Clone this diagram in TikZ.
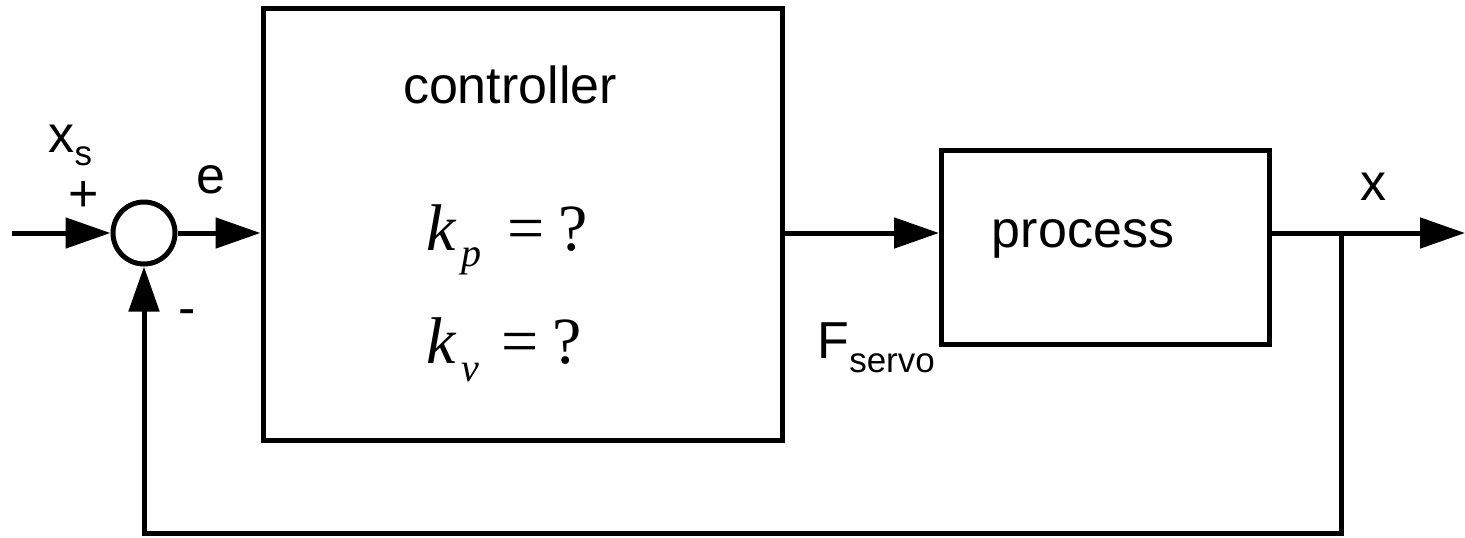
\documentclass[tikz,border=0pt]{standalone}
\usepackage{fontspec}
\setmainfont{Liberation Sans}
\newfontfamily\tms{Liberation Serif}
\usetikzlibrary{arrows.meta}
\begin{document}
\begin{tikzpicture}[x=1pt,y=-1pt,
  line width=5pt,
  blk/.style={draw, line width=5pt, inner sep=0pt},
  sig/.style={-{Triangle[length=45pt,width=30pt]}},
  lbl/.style={font=\fontsize{52}{60}\selectfont, inner sep=0pt},
  sub/.style={font=\fontsize{35}{40}\selectfont},
  eqn/.style={font=\tms\fontsize{66}{72}\selectfont, inner sep=0pt, anchor=base west},
  ]
\useasboundingbox (0,0) rectangle (1465,538);
% blocks
\node[blk, minimum width=519pt, minimum height=432pt] (ctrl) at (522.5,224) {};
\node[blk, minimum width=328pt, minimum height=194pt] (proc) at (1105.5,247) {};
\node[draw, circle, line width=5pt, minimum size=62pt, inner sep=0pt] (sum) at (144,233) {};
% texts
\node[lbl, anchor=base] (tctrl) at (510,103) {controller};
\node[lbl, anchor=base] (tproc) at (1083,247) {process};
\node[eqn] (kp) at (424,250) {\textit{k}\hspace{5pt}\raisebox{-16pt}{\fontsize{40}{44}\selectfont\textit{p}}\hspace{26pt}=\hspace{14pt}?};
\node[eqn] (kv) at (424,363) {\textit{k}\hspace{5pt}\raisebox{-18pt}{\fontsize{40}{44}\selectfont\textit{v}}\hspace{22pt}=\hspace{14pt}?};
\node[lbl, anchor=base west] (lxs) at (46,152) {x\raisebox{-13pt}{\fontsize{35}{40}\selectfont s}};
\node[lbl] (lplus) at (84,196) {+};
\node[lbl] (lminus) at (187,318) {-};
\node[lbl, anchor=base west] (le) at (194,193) {e};
\node[lbl, anchor=base west] (lf) at (815,358) {F\raisebox{-14pt}{\fontsize{35}{40}\selectfont servo}};
\node[lbl, anchor=base west] (lx) at (1358,200) {x};
% connectors
\coordinate (in) at (12,233);
\coordinate (out) at (1465,233);
\coordinate (tap) at (1341,233);
\coordinate (fb) at (0,533);
\draw[sig] (in) -- (sum.west);
\draw[sig] (sum.east) -- (sum.east -| ctrl.west);
\draw[sig] (sum -| ctrl.east) -- (sum -| proc.west);
\draw[sig] (sum -| proc.east) -- (out);
\draw[sig] (tap) |- (sum.south |- fb) -- (sum.south);
\end{tikzpicture}
\end{document}
